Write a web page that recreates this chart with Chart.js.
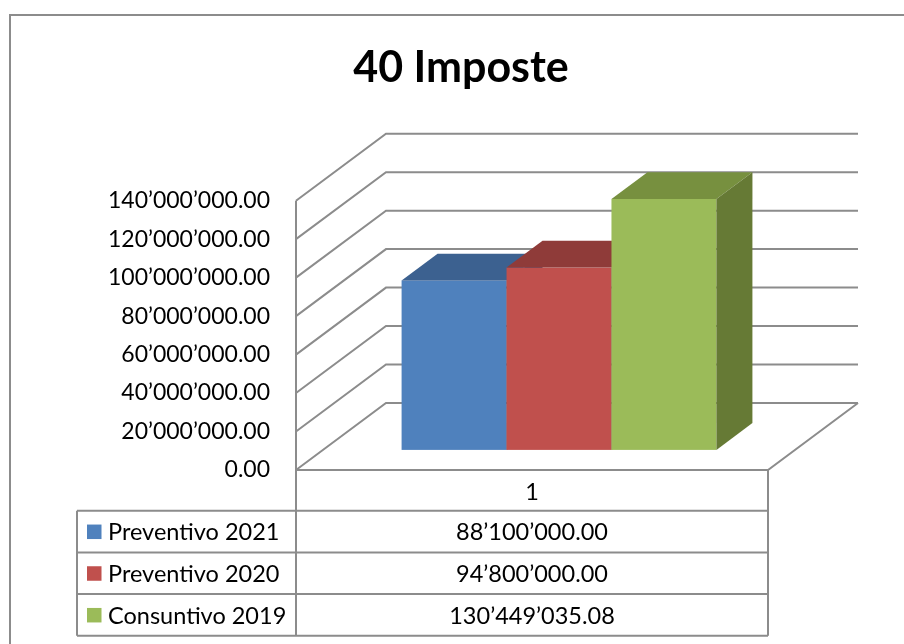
<!DOCTYPE html>
<html>
<head>
<meta charset="utf-8">
<title>40 Imposte</title>
<script src="https://cdn.jsdelivr.net/npm/chart.js@4.4.1/dist/chart.umd.min.js"></script>
<style>
  html, body { margin: 0; padding: 0; background: #fff; }
  #wrap { width: 904px; height: 644px; }
</style>
</head>
<body>
<div id="wrap"><canvas id="chart" width="904" height="644"></canvas></div>
<script>
// data
const chartTitle = '40 Imposte';
const categories = ['1'];
const seriesNames = ['Preventivo 2021', 'Preventivo 2020', 'Consuntivo 2019'];
const preventivo2021 = [88100000.00];
const preventivo2020 = [94800000.00];
const consuntivo2019 = [130449035.08];
const yTicks = [0, 20000000, 40000000, 60000000, 80000000, 100000000, 120000000, 140000000];

// face colours: front / top / side
const frontColors = ['#4F81BD', '#C0504D', '#9BBB59'];
const topColors = ['#3C6190', '#8F3B39', '#77903F'];
const sideColors = ['#345480', '#7F3432', '#667A35'];

const GRID = '#8C8C8C';
const DEPTH_X = 90;   // full floor depth, px
const DEPTH_Y = -67;
const BAR_FRONT = 0.3; // bars sit from 0.3 to 0.7 of the depth
const BAR_DEPTH = 0.4;

function fmt(v) {
  const parts = Number(v).toFixed(2).split('.');
  return parts[0].replace(/\B(?=(\d{3})+(?!\d))/g, '\u2019') + '.' + parts[1];
}

const threeD = {
  id: 'threeD',
  beforeDatasetsDraw(chart) {
    const { ctx, chartArea: a, scales: { y } } = chart;
    ctx.save();
    ctx.strokeStyle = GRID;
    ctx.lineWidth = 2;
    // back wall + left wall lines
    yTicks.forEach(v => {
      const py = y.getPixelForValue(v);
      ctx.beginPath();
      ctx.moveTo(a.left, py);
      ctx.lineTo(a.left + DEPTH_X, py + DEPTH_Y);
      ctx.lineTo(a.right + DEPTH_X, py + DEPTH_Y);
      ctx.stroke();
    });
    // front axis
    ctx.beginPath();
    ctx.moveTo(a.left, y.getPixelForValue(yTicks[yTicks.length - 1]));
    ctx.lineTo(a.left, a.bottom);
    ctx.stroke();
    // floor
    ctx.beginPath();
    ctx.moveTo(a.left, a.bottom);
    ctx.lineTo(a.right, a.bottom);
    ctx.lineTo(a.right + DEPTH_X, a.bottom + DEPTH_Y);
    ctx.stroke();
    ctx.restore();
  },
  beforeDatasetDraw() {
    return false; // bars are drawn as boxes below
  },
  afterDatasetsDraw(chart) {
    const { ctx } = chart;
    const ox = DEPTH_X * BAR_FRONT, oy = DEPTH_Y * BAR_FRONT;
    const dx = DEPTH_X * BAR_DEPTH, dy = DEPTH_Y * BAR_DEPTH;
    ctx.save();
    chart.data.datasets.forEach((ds, i) => {
      chart.getDatasetMeta(i).data.forEach(bar => {
        const p = bar.getProps(['x', 'y', 'base', 'width'], true);
        const l = p.x - p.width / 2 + ox, r = p.x + p.width / 2 + ox;
        const t = p.y + oy, b = p.base + oy;
        ctx.fillStyle = frontColors[i];
        ctx.fillRect(l, t, r - l, b - t);
        ctx.fillStyle = topColors[i];
        ctx.beginPath();
        ctx.moveTo(l, t); ctx.lineTo(r, t); ctx.lineTo(r + dx, t + dy); ctx.lineTo(l + dx, t + dy);
        ctx.closePath(); ctx.fill();
        ctx.fillStyle = sideColors[i];
        ctx.beginPath();
        ctx.moveTo(r, t); ctx.lineTo(r + dx, t + dy); ctx.lineTo(r + dx, b + dy); ctx.lineTo(r, b);
        ctx.closePath(); ctx.fill();
      });
    });
    ctx.restore();
  },
  afterDraw(chart) {
    const { ctx, chartArea: a } = chart;
    ctx.save();
    // title
    ctx.fillStyle = '#000';
    ctx.font = 'bold 43px Lato';
    ctx.textAlign = 'center';
    ctx.textBaseline = 'middle';
    ctx.fillText(chartTitle, 461, 68);

    // data table under the plot
    const tableLeft = 77, rowH = 41.7;
    const headTop = a.bottom, headBottom = a.bottom + 40.7;
    const bottom = headBottom + rowH * 3;
    ctx.strokeStyle = GRID;
    ctx.lineWidth = 2;
    ctx.beginPath();
    ctx.moveTo(a.left, a.bottom); ctx.lineTo(a.left, bottom);
    ctx.moveTo(a.right, headTop); ctx.lineTo(a.right, bottom);
    ctx.moveTo(tableLeft, headBottom); ctx.lineTo(tableLeft, bottom);
    for (let k = 0; k <= 3; k++) {
      const yy = headBottom + rowH * k;
      ctx.moveTo(tableLeft, yy); ctx.lineTo(a.right, yy);
    }
    ctx.stroke();

    ctx.font = '23.5px Lato';
    const midX = (a.left + a.right) / 2;
    ctx.fillText(chart.data.labels[0], midX, (headTop + headBottom) / 2 + 2);
    chart.data.datasets.forEach((ds, i) => {
      const cy = headBottom + rowH * i + rowH / 2 + 1;
      ctx.fillStyle = frontColors[i];
      ctx.fillRect(87, cy - 8, 14.5, 14.5);
      ctx.fillStyle = '#000';
      ctx.textAlign = 'left';
      ctx.fillText(ds.label, 108, cy);
      ctx.textAlign = 'center';
      ctx.fillText(fmt(ds.data[0]), midX, cy);
    });
    ctx.restore();
  }
};

// outer frame of the picture
const frame = {
  id: 'frame',
  beforeDraw(chart) {
    const { ctx } = chart;
    ctx.save();
    ctx.strokeStyle = '#8C8C8C';
    ctx.lineWidth = 2;
    ctx.beginPath();
    ctx.moveTo(10, 644); ctx.lineTo(10, 15); ctx.lineTo(904, 15);
    ctx.stroke();
    ctx.restore();
  }
};

function build() {
  Chart.defaults.font.family = 'Lato';
  Chart.defaults.color = '#000';
  new Chart(document.getElementById('chart'), {
    type: 'bar',
    data: {
      labels: categories,
      datasets: [
        { label: seriesNames[0], data: preventivo2021, backgroundColor: frontColors[0] },
        { label: seriesNames[1], data: preventivo2020, backgroundColor: frontColors[1] },
        { label: seriesNames[2], data: consuntivo2019, backgroundColor: frontColors[2] }
      ]
    },
    options: {
      responsive: false,
      animation: false,
      layout: { padding: { left: 12, right: 136, top: 200.7, bottom: 174 } },
      plugins: {
        legend: { display: false },
        tooltip: { enabled: false },
        title: { display: false }
      },
      datasets: { bar: { barPercentage: 1, categoryPercentage: 0.667 } },
      scales: {
        x: { display: false },
        y: {
          min: 0,
          max: 140000000,
          afterFit: s => { s.width = 284; },
          grid: { display: false, drawTicks: false },
          border: { display: false },
          ticks: {
            stepSize: 20000000,
            padding: 26,
            font: { size: 23 },
            color: '#000',
            callback: v => fmt(v)
          }
        }
      }
    },
    plugins: [frame, threeD]
  });
}

document.fonts.load('bold 43px Lato').then(() => document.fonts.load('23px Lato')).then(build, build);
</script>
</body>
</html>
